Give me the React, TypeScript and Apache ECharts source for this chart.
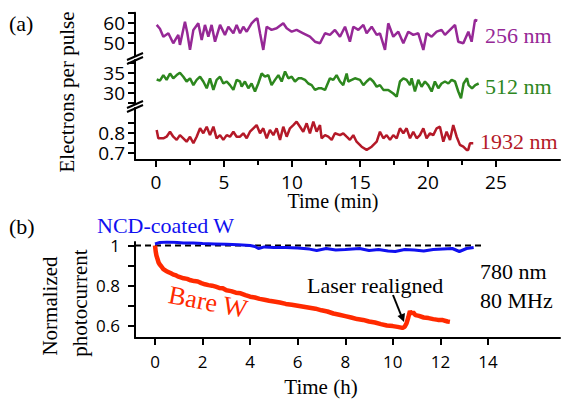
import React, { useEffect, useRef } from "react";
import * as echarts from "echarts";

// ---------- Panel (a): electrons per pulse vs time (min) ----------
const t256 = [0.05, 0.29, 0.54, 0.91, 1.27, 1.47, 1.64, 1.76, 2.13, 2.3, 2.5, 2.75, 3.11, 3.36, 3.6, 3.85, 4.09, 4.34, 4.71, 5.07, 5.32, 5.69, 5.93, 6.18, 6.42, 6.67, 7.03, 7.28, 7.45, 7.65, 7.89, 8.14, 8.5, 8.87, 9.36, 9.61, 9.98, 10.34, 10.83, 11.32, 11.69, 12.06, 12.43, 12.79, 13.16, 13.53, 13.9, 14.26, 14.51, 14.88, 15.25, 15.49, 15.86, 16.23, 16.47, 16.84, 17.08, 17.45, 17.82, 18.19, 18.55, 18.92, 19.29, 19.66, 19.9, 20.27, 20.64, 21.0, 21.25, 21.62, 21.99, 22.23, 22.6, 22.97, 23.21, 23.46, 23.63];
const v256 = [58.9, 57.0, 53.0, 54.7, 49.7, 52.0, 53.9, 48.9, 60.5, 55.0, 46.4, 56.4, 59.7, 51.4, 58.9, 53.0, 58.9, 50.5, 58.9, 53.9, 58.0, 54.7, 58.9, 54.7, 58.0, 55.5, 59.7, 61.4, 62.2, 54.7, 46.4, 58.0, 56.4, 57.2, 59.7, 57.2, 55.5, 56.4, 54.7, 53.0, 50.5, 49.7, 54.7, 53.9, 56.4, 53.0, 58.0, 50.5, 58.0, 56.4, 58.9, 54.7, 58.0, 53.9, 54.7, 46.4, 59.7, 53.0, 55.5, 49.7, 55.5, 53.9, 54.7, 46.4, 54.7, 53.0, 55.5, 56.4, 53.9, 56.4, 58.9, 50.5, 49.7, 55.5, 50.5, 61.4, 61.0];

const t512 = [0.05, 0.29, 0.54, 0.78, 1.03, 1.27, 1.52, 1.76, 2.01, 2.25, 2.5, 2.75, 2.99, 3.24, 3.48, 3.73, 3.97, 4.22, 4.46, 4.71, 4.95, 5.2, 5.44, 5.69, 5.93, 6.18, 6.3, 6.54, 6.79, 7.03, 7.28, 7.52, 7.77, 8.01, 8.26, 8.5, 8.75, 9.0, 9.24, 9.49, 9.73, 9.98, 10.22, 10.47, 10.71, 10.96, 11.2, 11.45, 11.69, 11.94, 12.18, 12.43, 12.79, 13.04, 13.28, 13.53, 13.77, 14.02, 14.14, 14.39, 14.63, 15.0, 15.25, 15.49, 15.74, 15.98, 16.23, 16.47, 16.72, 17.08, 17.45, 17.7, 17.94, 18.19, 18.43, 18.68, 18.8, 19.04, 19.29, 19.53, 19.78, 20.02, 20.27, 20.51, 20.76, 21.0, 21.25, 21.5, 21.74, 21.99, 22.23, 22.43, 22.62, 22.87, 22.99, 23.24, 23.48, 23.73];
const v512 = [33.3, 33.0, 34.4, 33.2, 34.8, 33.6, 34.4, 35.0, 34.0, 32.8, 33.6, 31.9, 33.2, 34.0, 32.8, 31.1, 33.6, 30.7, 33.2, 34.0, 32.3, 32.8, 31.9, 30.7, 33.2, 32.8, 31.5, 32.8, 31.1, 32.3, 30.3, 32.3, 34.8, 34.0, 34.4, 31.9, 33.2, 34.4, 32.8, 35.3, 33.6, 34.0, 32.8, 33.6, 33.6, 33.2, 32.3, 31.9, 30.7, 31.1, 31.1, 30.7, 33.6, 33.2, 34.4, 32.8, 31.9, 34.8, 32.8, 33.2, 33.6, 33.2, 31.9, 32.8, 33.6, 32.8, 31.5, 31.9, 30.7, 30.7, 29.8, 29.0, 32.8, 33.6, 33.2, 31.9, 33.6, 30.3, 33.2, 31.5, 32.8, 31.9, 30.3, 32.8, 31.1, 32.3, 32.8, 32.3, 33.2, 32.8, 30.3, 28.6, 32.3, 33.6, 31.9, 31.1, 31.9, 32.3];

const t1932 = [0.05, 0.17, 0.54, 0.78, 1.03, 1.27, 1.52, 1.76, 2.01, 2.25, 2.5, 2.75, 2.99, 3.24, 3.48, 3.73, 3.97, 4.22, 4.46, 4.71, 4.95, 5.2, 5.44, 5.69, 5.93, 6.18, 6.42, 6.67, 6.91, 7.16, 7.4, 7.65, 7.89, 8.14, 8.38, 8.63, 8.87, 9.12, 9.36, 9.61, 9.85, 10.1, 10.34, 10.59, 10.83, 11.08, 11.32, 11.57, 11.81, 12.06, 12.18, 12.43, 12.67, 12.92, 13.16, 13.53, 13.77, 14.02, 14.26, 14.51, 14.75, 15.12, 15.49, 15.86, 16.23, 16.47, 16.72, 16.96, 17.21, 17.45, 17.7, 17.94, 18.19, 18.43, 18.68, 18.92, 19.17, 19.41, 19.66, 19.9, 20.15, 20.39, 20.64, 20.88, 21.13, 21.37, 21.62, 21.86, 22.11, 22.35, 22.6, 22.84, 22.96, 23.09, 23.33];
const v1932 = [0.814, 0.772, 0.772, 0.78, 0.805, 0.78, 0.764, 0.788, 0.772, 0.755, 0.78, 0.747, 0.78, 0.822, 0.797, 0.83, 0.788, 0.83, 0.772, 0.788, 0.764, 0.788, 0.78, 0.805, 0.78, 0.78, 0.797, 0.772, 0.805, 0.822, 0.838, 0.797, 0.822, 0.772, 0.814, 0.788, 0.822, 0.764, 0.83, 0.78, 0.822, 0.838, 0.855, 0.83, 0.805, 0.847, 0.797, 0.855, 0.805, 0.838, 0.772, 0.788, 0.78, 0.764, 0.797, 0.788, 0.797, 0.78, 0.764, 0.788, 0.755, 0.73, 0.714, 0.73, 0.755, 0.805, 0.772, 0.788, 0.764, 0.788, 0.772, 0.822, 0.797, 0.822, 0.772, 0.805, 0.772, 0.788, 0.822, 0.772, 0.797, 0.788, 0.822, 0.83, 0.755, 0.805, 0.764, 0.838, 0.78, 0.739, 0.73, 0.714, 0.714, 0.747, 0.747];

const minTicks = [0, 5, 10, 15, 20, 25];
const minMinorTicks = [2.5, 7.5, 12.5, 17.5, 22.5];
const y256Ticks = [50, 55, 60, 65];
const y256Labels = [50, 60];
const y512Ticks = [27.5, 30, 32.5, 35, 37.5];
const y512Labels = [30, 35];
const y1932Ticks = [0.7, 0.75, 0.8, 0.85];
const y1932Labels = [0.7, 0.8];

// ---------- Panel (b): normalized photocurrent vs time (h) ----------
const tBare = [0, 0.03, 0.06, 0.1, 0.15, 0.2, 0.27, 0.35, 0.45, 0.55, 0.65, 0.75, 0.85, 0.95, 1.05, 1.2, 1.35, 1.5, 1.65, 1.8, 1.95, 2.1, 2.25, 2.4, 2.55, 2.7, 2.85, 3.0, 3.2, 3.4, 3.6, 3.8, 4.0, 4.2, 4.4, 4.6, 4.8, 5.0, 5.25, 5.5, 5.75, 6.0, 6.25, 6.5, 6.75, 7.0, 7.25, 7.5, 7.75, 8.0, 8.25, 8.5, 8.75, 9.0, 9.25, 9.5, 9.75, 10.0, 10.2, 10.4, 10.5, 10.58, 10.65, 10.72, 10.78, 10.85, 10.95, 11.1, 11.3, 11.5, 11.7, 11.9, 12.1, 12.3, 12.4];
const vBare = [1.0, 0.97, 0.95, 0.935, 0.915, 0.905, 0.895, 0.882, 0.874, 0.868, 0.862, 0.856, 0.852, 0.846, 0.842, 0.836, 0.833, 0.826, 0.822, 0.82, 0.812, 0.806, 0.802, 0.799, 0.794, 0.788, 0.786, 0.776, 0.772, 0.764, 0.761, 0.752, 0.744, 0.74, 0.733, 0.729, 0.724, 0.72, 0.715, 0.708, 0.704, 0.699, 0.694, 0.689, 0.684, 0.676, 0.67, 0.66, 0.654, 0.647, 0.64, 0.632, 0.628, 0.62, 0.615, 0.607, 0.6, 0.597, 0.593, 0.588, 0.594, 0.612, 0.64, 0.672, 0.66, 0.667, 0.652, 0.648, 0.64, 0.637, 0.632, 0.628, 0.627, 0.62, 0.618];

const tNcd = [0, 0.2, 0.5, 0.8, 1.2, 1.6, 2.0, 2.5, 3.0, 3.5, 4.0, 4.2, 4.35, 4.6, 5.0, 5.5, 6.0, 6.5, 6.8, 7.2, 7.6, 8.0, 8.6, 9.0, 9.4, 9.8, 10.1, 10.5, 10.9, 11.3, 11.7, 12.1, 12.5, 12.8, 13.1, 13.4];
const vNcd = [1.008, 1.015, 1.018, 1.016, 1.013, 1.012, 1.01, 1.008, 1.006, 1.004, 1.0, 0.995, 0.985, 0.993, 0.99, 0.99, 0.988, 0.982, 0.975, 0.985, 0.978, 0.98, 0.985, 0.975, 0.98, 0.972, 0.97, 0.98, 0.977, 0.972, 0.98, 0.983, 0.985, 0.97, 0.985, 0.99];

const refLevel = 1;
const refLineEnd = 13.8;
const hourTicks = [0, 2, 4, 6, 8, 10, 12, 14];
const yPhotoTicks = [0.6, 0.7, 0.8, 0.9, 1];
const yPhotoLabels = [0.6, 0.8, 1];

const C256 = "#962896";
const C512 = "#2d871e";
const C1932 = "#b41928";
const CNCD = "#1010f0";
const CBARE = "#ff2a00";

const SERIF = "Liberation Serif";
const SANS = "Open Sans";

const zip = (t: number[], v: number[]) => t.map((x, i) => [x, v[i]]);

const axLine = { show: true, onZero: false, lineStyle: { color: "#000", width: 2 } };
const fmt = (v: number) => String(v);

function yAx(gridIndex: number, min: number, max: number, ticks: number[], labels: number[], margin: number, fontSize: number) {
  return {
    type: "value",
    gridIndex,
    min,
    max,
    axisLine: axLine,
    axisTick: { show: true, length: 7, lineStyle: { color: "#000", width: 2 }, customValues: ticks },
    axisLabel: { customValues: labels, margin, fontSize, lineHeight: 16, fontFamily: SANS, color: "#000", formatter: fmt },
    splitLine: { show: false },
  };
}

const TOP_XMIN = -1.544;
const TOP_XMAX = 29.71;
const BOT_XMIN = -0.841;
const BOT_XMAX = 17.03;

function txt(text: string, x: number, y: number, size: number, color: string, align = "left", rotation = 0) {
  return {
    type: "text",
    x,
    y,
    rotation,
    style: { text, fill: color, font: `${size}px ${SERIF}`, textAlign: align, textVerticalAlign: "middle" },
  };
}

function seg(x1: number, y1: number, x2: number, y2: number) {
  return { type: "line", shape: { x1, y1, x2, y2 }, style: { stroke: "#000", lineWidth: 2 } };
}

const option: any = {
  animation: false,
  backgroundColor: "#fff",
  grid: [
    { left: 135, right: 4, top: 12.7, height: 43.3 },
    { left: 135, right: 4, top: 60, height: 44 },
    { left: 135, right: 4, top: 108, height: 52 },
    { left: 135, right: 4, top: 242, height: 96 },
  ],
  xAxis: [
    { type: "value", gridIndex: 0, min: TOP_XMIN, max: TOP_XMAX, show: false },
    { type: "value", gridIndex: 1, min: TOP_XMIN, max: TOP_XMAX, show: false },
    {
      type: "value", gridIndex: 2, min: TOP_XMIN, max: TOP_XMAX, position: "bottom",
      axisLine: axLine,
      axisTick: { show: true, length: 7, lineStyle: { color: "#000", width: 2 }, customValues: minTicks },
      axisLabel: { customValues: minTicks, margin: 12, fontSize: 19, fontFamily: SANS, color: "#000", formatter: fmt },
      splitLine: { show: false },
    },
    {
      type: "value", gridIndex: 2, min: TOP_XMIN, max: TOP_XMAX, position: "bottom", offset: 0,
      axisLine: { show: false },
      axisTick: { show: true, length: 5, lineStyle: { color: "#000", width: 2 }, customValues: minMinorTicks },
      axisLabel: { show: false },
      splitLine: { show: false },
    },
    {
      type: "value", gridIndex: 3, min: BOT_XMIN, max: BOT_XMAX, position: "bottom",
      axisLine: axLine,
      axisTick: { show: true, length: 7, lineStyle: { color: "#000", width: 2 }, customValues: hourTicks },
      axisLabel: { customValues: hourTicks, margin: 15, fontSize: 17, fontFamily: SANS, color: "#000", formatter: fmt },
      splitLine: { show: false },
    },
  ],
  yAxis: [
    yAx(0, 43.35, 65, y256Ticks, y256Labels, 10, 19),
    yAx(1, 27.175, 38.175, y512Ticks, y512Labels, 10, 19),
    yAx(2, 0.6635, 0.9235, y1932Ticks, y1932Labels, 10, 19),
    yAx(3, 0.5375, 1.0175, yPhotoTicks, yPhotoLabels, 15, 17),
  ],
  series: [
    { type: "line", xAxisIndex: 0, yAxisIndex: 0, data: zip(t256, v256), showSymbol: false, lineStyle: { color: C256, width: 2.5 } },
    { type: "line", xAxisIndex: 1, yAxisIndex: 1, data: zip(t512, v512), showSymbol: false, lineStyle: { color: C512, width: 2.5 } },
    { type: "line", xAxisIndex: 2, yAxisIndex: 2, data: zip(t1932, v1932), showSymbol: false, lineStyle: { color: C1932, width: 2.5 } },
    {
      type: "line", xAxisIndex: 4, yAxisIndex: 3, data: [[BOT_XMIN, refLevel], [refLineEnd, refLevel]], showSymbol: false,
      lineStyle: { color: "#000", width: 2, type: [6, 4] },
    },
    { type: "line", xAxisIndex: 4, yAxisIndex: 3, data: zip(tBare, vBare), showSymbol: false, lineStyle: { color: CBARE, width: 4.5 } },
    { type: "line", xAxisIndex: 4, yAxisIndex: 3, data: zip(tNcd, vNcd), showSymbol: false, lineStyle: { color: CNCD, width: 3 } },
  ],
  graphic: [
    txt("(a)", 9, 23, 22, "#000"),
    txt("Electrons per pulse", 67, 92, 21, "#000", "center", Math.PI / 2),
    txt("Time (min)", 333, 201, 20, "#000", "center"),
    txt("256 nm", 485, 35, 22, C256),
    txt("512 nm", 485, 86, 22, C512),
    txt("1932 nm", 480, 141, 22, C1932),
    // axis break marks
    seg(127, 60, 143, 53), seg(127, 64, 143, 57),
    seg(127, 108, 143, 101), seg(127, 112, 143, 105),
    txt("(b)", 9, 226, 22, "#000"),
    txt("NCD-coated W", 97, 225, 22, CNCD),
    txt("Normalized", 50, 306, 21, "#000", "center", Math.PI / 2),
    txt("photocurrent", 80, 303, 21, "#000", "center", Math.PI / 2),
    txt("Bare W", 208, 302, 26, CBARE, "center", -0.19),
    txt("Laser realigned", 307, 285, 22, "#000"),
    seg(393, 295, 401, 315),
    { type: "polygon", shape: { points: [[404, 322], [405, 313], [397.5, 316]] }, style: { fill: "#000" } },
    txt("780 nm", 480, 271, 22, "#000"),
    txt("80 MHz", 480, 300, 22, "#000"),
    txt("Time (h)", 321, 387, 21, "#000", "center"),
  ],
};

export default function App() {
  const ref = useRef<HTMLDivElement>(null);
  useEffect(() => {
    document.body.style.margin = "0";
    const chart = echarts.init(ref.current!, null, { renderer: "svg" });
    chart.setOption(option);
    return () => chart.dispose();
  }, []);
  return <div ref={ref} style={{ width: 564, height: 400 }} />;
}
